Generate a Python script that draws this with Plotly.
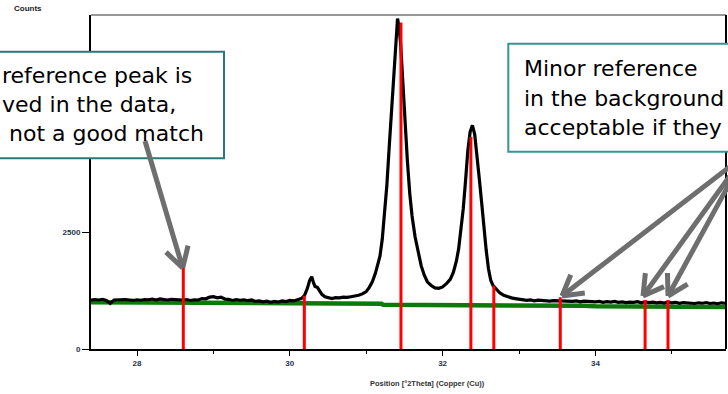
import math
import plotly.graph_objects as go

# Measured diffraction profile: position [deg 2theta] and counts
two_theta = [
    27.40, 27.45, 27.50, 27.55, 27.60, 27.65, 27.70, 27.75, 27.80, 27.85,
    27.90, 27.95, 28.00, 28.05, 28.10, 28.15, 28.20, 28.25, 28.30, 28.35,
    28.40, 28.45, 28.50, 28.55, 28.60, 28.65, 28.70, 28.75, 28.80, 28.85,
    28.90, 28.95, 29.00, 29.05, 29.10, 29.15, 29.20, 29.25, 29.30, 29.35,
    29.40, 29.45, 29.50, 29.55, 29.60, 29.65, 29.70, 29.75, 29.80, 29.85,
    29.90, 29.95, 30.00, 30.05, 30.10,
    30.15, 30.19, 30.23, 30.26, 30.287, 30.31, 30.33, 30.36, 30.39, 30.42,
    30.46, 30.50, 30.55, 30.60, 30.65, 30.70, 30.75, 30.80, 30.85, 30.90,
    30.95, 31.00, 31.04, 31.08, 31.12, 31.15, 31.18, 31.21, 31.24, 31.27,
    31.30, 31.33, 31.36, 31.39, 31.41, 31.43, 31.45, 31.48, 31.51, 31.54,
    31.57, 31.60, 31.64, 31.68, 31.72, 31.76, 31.80, 31.85, 31.90, 31.95,
    32.00, 32.05, 32.10, 32.14, 32.18, 32.21, 32.24, 32.27, 32.30, 32.33,
    32.36, 32.39, 32.42, 32.45, 32.48, 32.51, 32.54, 32.57, 32.60, 32.63,
    32.66, 32.70, 32.75, 32.80, 32.85, 32.90, 32.95, 33.00,
    33.05, 33.10, 33.15, 33.20, 33.25, 33.30, 33.35, 33.40, 33.45, 33.50,
    33.55, 33.60, 33.65, 33.70, 33.75, 33.80, 33.85, 33.90, 33.95, 34.00,
    34.05, 34.10, 34.15, 34.20, 34.25, 34.30, 34.35, 34.40, 34.45, 34.50,
    34.55, 34.60, 34.65, 34.70, 34.75, 34.80, 34.85, 34.90, 34.95, 35.00,
    35.05, 35.10, 35.15, 35.20, 35.25, 35.30, 35.35, 35.40, 35.45, 35.50,
    35.55, 35.60, 35.65, 35.70,
]
counts = [
    1045, 1060, 1050, 1065, 1040, 975, 1050, 1055, 1045, 1060,
    1050, 1040, 1055, 1045, 1060, 1055, 1070, 1050, 1075, 1060,
    1050, 1065, 1055, 1045, 1050, 1060, 1040, 1055, 1050, 1080,
    1075, 1110, 1120, 1095, 1110, 1070, 1065, 1040, 1060, 1045,
    1055, 1035, 1050, 1020, 1030, 1010, 1025, 1000, 1020, 1005,
    1030, 1015, 1040, 1030, 1060,
    1080, 1140, 1300, 1470, 1550, 1420, 1340, 1320, 1230, 1170,
    1120, 1095, 1080, 1100, 1095, 1110, 1105, 1120, 1130, 1150,
    1180, 1230, 1320, 1440, 1620, 1800, 1990, 2350, 2850, 3500,
    4300, 5120, 5950, 6700, 7080, 6900, 6550, 5700, 4760, 4000,
    3330, 2850, 2400, 2060, 1780, 1580, 1440, 1360, 1310, 1300,
    1330, 1400, 1490, 1640, 1880, 2150, 2550, 3000, 3600, 4250,
    4650, 4790, 4600, 4180, 3650, 3150, 2600, 2120, 1720, 1470,
    1360, 1280, 1200, 1150, 1120, 1095, 1080, 1070,
    1060, 1040, 1050, 1030, 1045, 1035, 1040, 1025, 1035, 1030,
    1040, 1025, 1030, 1020, 1030, 1010, 1025, 1015, 1020, 1010,
    1020, 1000, 1015, 1005, 1020, 1000, 1010, 995, 1005, 1000,
    1015, 990, 1010, 995, 1005, 990, 1000, 985, 1005, 990,
    1000, 980, 995, 985, 990, 975, 990, 980, 995, 975,
    985, 970, 990, 980,
]

# Fitted background
bg_theta = [27.39, 29.00, 30.15, 30.20, 31.20, 31.22, 32.90, 32.92, 33.85, 34.00, 34.70, 35.72]
bg_counts = [1000, 995, 990, 975, 970, 950, 945, 930, 925, 915, 910, 900]

# Reference pattern stick positions and intensities
ref_pos = [28.606, 30.19, 31.455, 32.37, 32.67, 33.54, 34.65, 34.95]
ref_int = [1940, 1140, 6995, 4546, 1356, 1110, 1050, 1050]

y_ticks = [0, 2500]
x_ticks = [28, 30, 32, 34]

# Callout text lines
left_note = ["reference peak is", "ved in the data,", "not a good match"]
right_note = ["Minor reference", "in the background", "acceptable if they"]

# Figure geometry (pixels)
WIDTH, HEIGHT = 728, 394
ML, MR, MT, MB = 91, 2, 15, 45
PL, PR, PT, PB = ML, WIDTH - MR, MT, HEIGHT - MB
PW, PH = PR - PL, PB - PT


def px(x):
    return (x - PL) / PW


def py(y):
    return (PB - y) / PH


def seg(x0, y0, x1, y1, color, width):
    return dict(type="line", xref="paper", yref="paper", layer="above",
                x0=px(x0), y0=py(y0), x1=px(x1), y1=py(y1),
                line=dict(color=color, width=width))


def arrow(tail, tip, color="#6e6e6e", width=5, head=23, spread=30):
    parts = [seg(tail[0], tail[1], tip[0], tip[1], color, width)]
    dx, dy = tail[0] - tip[0], tail[1] - tip[1]
    n = math.hypot(dx, dy)
    ux, uy = dx / n, dy / n
    for s in (spread, -spread):
        a = math.radians(s)
        rx = ux * math.cos(a) - uy * math.sin(a)
        ry = ux * math.sin(a) + uy * math.cos(a)
        parts.append(seg(tip[0], tip[1], tip[0] + head * rx, tip[1] + head * ry, color, width))
    return parts


stick_x, stick_y = [], []
for p, h in zip(ref_pos, ref_int):
    stick_x += [p, p, None]
    stick_y += [0, h, None]

fig = go.Figure()
fig.add_trace(go.Scatter(x=bg_theta, y=bg_counts, mode="lines",
                         line=dict(color="#0b7a0b", width=4.5), hoverinfo="skip"))
fig.add_trace(go.Scatter(x=two_theta, y=counts, mode="lines",
                         line=dict(color="black", width=3.2)))
fig.add_trace(go.Scatter(x=stick_x, y=stick_y, mode="lines",
                         line=dict(color="#ff0000", width=3)))

tick_font = dict(family="Liberation Sans, Arial", size=8, color="#27324a", weight="bold")

fig.update_xaxes(range=[27.398, 35.709], tickvals=x_ticks, ticks="outside", ticklen=5,
                 tickwidth=1, tickcolor="black", showline=True, linecolor="black",
                 linewidth=2, showgrid=False, zeroline=False, tickfont=tick_font,
                 minor=dict(dtick=1, tick0=27, ticks="outside", ticklen=3,
                            tickcolor="black", tickwidth=1, showgrid=False))
fig.update_yaxes(range=[0, 7155], tickvals=y_ticks, ticks="outside", ticklen=7,
                 tickwidth=1, tickcolor="black", showline=True, linecolor="black",
                 linewidth=2, showgrid=False, zeroline=False, tickfont=tick_font)

shapes = []
# frame top and right
shapes.append(seg(PL, PT, PR, PT, "#333333", 1))
shapes.append(seg(PR, PT, PR, PB, "black", 2))
# callout boxes
shapes.append(dict(type="rect", xref="paper", yref="paper", layer="above",
                   x0=px(-10), x1=px(224), y0=py(158.3), y1=py(51.7),
                   fillcolor="white", line=dict(color="#2a7878", width=2)))
shapes.append(dict(type="rect", xref="paper", yref="paper", layer="above",
                   x0=px(508.3), x1=px(745), y0=py(151.7), y1=py(43.7),
                   fillcolor="white", line=dict(color="#3b9494", width=2)))
# pointer arrows
shapes += arrow((145, 141), (182.7, 268))
for tip in [(562, 296), (643, 296), (668, 296)]:
    shapes += arrow((745, 155), tip)

callout_font = dict(family="DejaVu Sans", size=22, color="black")
annotations = []
placements = list(zip(left_note, [1, 1, 8], [82, 111, 140])) + \
    list(zip(right_note, [522.7] * 3, [75, 105, 135]))
for text, x, yb in placements:
    annotations.append(dict(xref="paper", yref="paper", x=px(x), y=py(yb - 7),
                            xanchor="left", yanchor="middle", showarrow=False,
                            text=text, font=callout_font, borderpad=0))

label_font = dict(family="Liberation Sans, Arial", size=8, color="#222222", weight="bold")
annotations.append(dict(xref="paper", yref="paper", x=px(12), y=py(9), xanchor="left",
                        yanchor="middle", showarrow=False, text="Counts", font=label_font))
annotations.append(dict(xref="paper", yref="paper", x=px(427), y=py(383), xanchor="center",
                        yanchor="middle", showarrow=False,
                        text="Position [°2Theta] (Copper (Cu))",
                        font=dict(family="Liberation Sans, Arial", size=7.5,
                                  color="#333333", weight="bold")))

fig.update_layout(width=WIDTH, height=HEIGHT, showlegend=False,
                  margin=dict(l=ML, r=MR, t=MT, b=MB),
                  paper_bgcolor="white", plot_bgcolor="white",
                  shapes=shapes, annotations=annotations)

fig.write_html("out.html")
